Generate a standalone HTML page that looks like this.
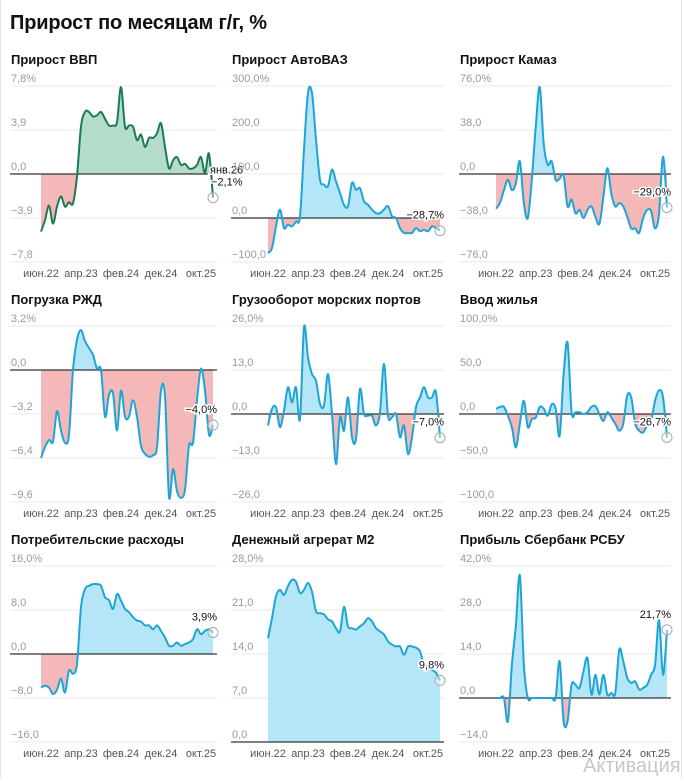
<!DOCTYPE html>
<html><head><meta charset="utf-8">
<style>
html,body{margin:0;padding:0;background:#fff;}
body{width:684px;height:778px;overflow:hidden;position:relative;font-family:"Liberation Sans","Noto Sans CJK SC",sans-serif;}
svg text{font-family:"Liberation Sans","Noto Sans CJK SC",sans-serif;}
</style></head>
<body>
<svg id="chart" width="684" height="778" viewBox="0 0 684 778" xmlns="http://www.w3.org/2000/svg">
<line x1="0.5" y1="0" x2="0.5" y2="778" stroke="#e6e6e6"/>
<line x1="681.5" y1="0" x2="681.5" y2="778" stroke="#e6e6e6"/>
<text x="10" y="29" font-size="20" font-weight="bold" fill="#111" textLength="257">Прирост по месяцам г/г, %</text>
<text x="583" y="772" font-size="20" fill="#c8c8c8">Активация Wi</text>
</svg>
<script>
const xTickLabels = ["июн.22","апр.23","фев.24","дек.24","окт.25"];
const xTickIndex = [0,10,20,30,40];
const gdp = [-5.1,-4.1,-2.8,-4.4,-2.9,-2.0,-2.9,-2.5,-2.6,-0.2,4.2,5.5,5.5,5.1,5.2,5.5,4.9,4.3,4.3,4.6,7.7,4.2,4.3,4.2,3.0,3.5,2.4,3.2,3.2,3.6,4.5,2.4,0.5,1.2,1.5,0.8,0.9,0.5,0.5,0.8,1.5,0.1,1.8,-2.1];
const avtovaz = [-80,-68,-19,19,-23,-15,-19,-8,4,155,284,284,178,87,76,72,110,83,57,30,27,80,64,68,38,30,19,11,11,19,27,4,0,-23,-34,-34,-34,-23,-30,-27,-30,-19,-23,-28.7];
const kamaz = [-30,-25,-14,-5,-14,-8,11,-25,-38,-5,41,75,26,8,11,-5,-4,-1,-28,-22,-34,-31,-38,-31,-28,-37,-43,-20,5,-17,-28,-25,-28,-37,-47,-47,-51,-38,-31,-32,-47,-34,15,-29];
const rzd = [-6.4,-5.6,-5.1,-5.2,-3.0,-4.4,-5.3,-4.7,0,2.2,2.9,2.1,1.6,1.1,0.1,0,-3.4,-1.8,-1.7,-4.4,-1.5,-3.4,-3.4,-2.2,-3.4,-5.5,-6.1,-6.3,-6.2,-5.6,-1.5,-1.9,-9.2,-7.2,-8.8,-9.3,-8.7,-5.5,-5.3,-2.2,0.1,-1.5,-4.7,-4.0];
const ports = [-3.4,1.5,2.0,-3.9,1.0,7.9,3.4,7.9,-1.5,25.6,16.7,11.8,9.8,3.0,2.5,11.8,0,-14.8,-1.0,-4.9,4.9,-6.9,-7.4,7.4,0,-0.5,-0.5,-3.4,0.5,14.8,-0.5,-1.0,0,-6.9,-3.4,-11.8,-6.9,2.0,4.9,7.9,4.9,4.9,6.4,-7.0];
const housing = [6,8,8,-2,-15,-38,-11,15,-15,-6,-4,8,6,-2,11,6,-25,45,81,2,2,2,0,2,8,9,0,-8,2,-4,-11,-19,-11,21,19,-11,-19,-21,-13,-8,15,27,19,-26.7];
const consumer = [-6.1,-5.8,-6.1,-7.3,-6.5,-4.5,-7.0,-3.0,-3.6,-1.8,8.5,11.8,12.4,12.7,12.7,12.4,10.3,9.8,8.2,10.9,9.7,8.2,7.6,6.7,6.1,5.9,5.2,5.2,4.5,5.2,4.2,3.0,1.5,1.5,2.1,1.5,1.8,2.1,2.7,4.5,3.6,4.2,4.5,3.9];
const m2 = [16.5,19.7,23.2,24.2,23.4,24.8,25.8,25.5,23.7,24.2,25.3,23.9,20.8,20.5,20.3,19.5,19.2,18.1,17.6,21.5,18.4,18.1,17.9,18.4,18.9,19.7,19.2,18.1,17.6,17.1,16.0,15.5,15.2,15.2,13.9,15.2,15.2,15.0,14.4,12.3,12.0,11.5,11.0,9.8];
const sber = [0,0,0,-7.4,10.6,23,39,10.6,0,0,0,0,0,0,0,0,11.7,-7.4,-7.4,4.2,4.2,3.2,8.5,12.7,1.1,7.4,1.1,7.4,1.1,1.6,1.6,15.4,11.7,6.4,4.8,5.3,2.7,3.2,4.2,7.4,10.6,24.9,7.4,21.7];

const gdpTicks=["7,8%","3,9","0,0","−3,9","−7,8"], gdpTickVals=[7.8,3.9,0,-3.9,-7.8];
const vazTicks=["300,0%","200,0","100,0","0,0","−100,0"], vazTickVals=[300,200,100,0,-100];
const kamTicks=["76,0%","38,0","0,0","−38,0","−76,0"], kamTickVals=[76,38,0,-38,-76];
const rzdTicks=["3,2%","0,0","−3,2","−6,4","−9,6"], rzdTickVals=[3.2,0,-3.2,-6.4,-9.6];
const portTicks=["26,0%","13,0","0,0","−13,0","−26,0"], portTickVals=[26,13,0,-13,-26];
const houseTicks=["100,0%","50,0","0,0","−50,0","−100,0"], houseTickVals=[100,50,0,-50,-100];
const consTicks=["16,0%","8,0","0,0","−8,0","−16,0"], consTickVals=[16,8,0,-8,-16];
const m2Ticks=["28,0%","21,0","14,0","7,0","0,0"], m2TickVals=[28,21,14,7,0];
const sberTicks=["42,0%","28,0","14,0","0,0","−14,0"], sberTickVals=[42,28,14,0,-14];

const titles=["Прирост ВВП","Прирост АвтоВАЗ","Прирост Камаз","Погрузка РЖД","Грузооборот морских портов","Ввод жилья","Потребительские расходы","Денежный агрерат М2","Прибыль Сбербанк РСБУ"];
const lastLabels=["−2,1%","−28,7%","−29,0%","−4,0%","−7,0%","−26,7%","3,9%","9,8%","21,7%"];
const series=[gdp,avtovaz,kamaz,rzd,ports,housing,consumer,m2,sber];
const ticks=[gdpTicks,vazTicks,kamTicks,rzdTicks,portTicks,houseTicks,consTicks,m2Ticks,sberTicks];
const tickVals=[gdpTickVals,vazTickVals,kamTickVals,rzdTickVals,portTickVals,houseTickVals,consTickVals,m2TickVals,sberTickVals];
const names=["gdp","avtovaz","kamaz","rzd","ports","housing","consumer","m2","sber"];

const NS="http://www.w3.org/2000/svg";
const svg=document.getElementById("chart");
const cols=[{g0:10,g1:217,d0:41,d1:213},{g0:231,g1:444,d0:268,d1:440},{g0:459,g1:671,d0:496,d1:667}];
const rowTop=[86,326,566];
function el(tag,attrs,parent){const e=document.createElementNS(NS,tag);for(const k in attrs)e.setAttribute(k,attrs[k]);(parent||svg).appendChild(e);return e;}
function smooth(pts){
  let d="M"+pts[0][0]+","+pts[0][1];
  for(let i=0;i<pts.length-1;i++){
    const p0=pts[Math.max(0,i-1)],p1=pts[i],p2=pts[i+1],p3=pts[Math.min(pts.length-1,i+2)];
    const c1x=p1[0]+(p2[0]-p0[0])/6,c1y=p1[1]+(p2[1]-p0[1])/6;
    const c2x=p2[0]-(p3[0]-p1[0])/6,c2y=p2[1]-(p3[1]-p1[1])/6;
    d+=" C"+c1x.toFixed(2)+","+c1y.toFixed(2)+" "+c2x.toFixed(2)+","+c2y.toFixed(2)+" "+p2[0].toFixed(2)+","+p2[1].toFixed(2);
  }
  return d;
}
for(let p=0;p<9;p++){
  const c=cols[p%3], top=rowTop[Math.floor(p/3)];
  const vals=series[p], tv=tickVals[p], tl=ticks[p];
  const vmax=tv[0], vmin=tv[4], bottom=top+176;
  const y=v=>top+(vmax-v)/(vmax-vmin)*176;
  const x=i=>c.d0+i*(c.d1-c.d0)/(vals.length-1);
  const g=el("g",{});
  
  
  const t=el("text",{x:c.g0+1,y:top-22,"font-size":13,"font-weight":"bold",fill:"#111"},g);
  t.textContent=titles[p];
  
  
  for(let k=0;k<5;k++){
    const yy=y(tv[k]);
    const gl=el("line",{x1:c.g0,x2:c.g1,y1:yy,y2:yy,stroke:"#e8e8e8","stroke-width":1},g);
    
    
    const lt=el("text",{x:c.g0+1,y:yy-4,"font-size":11,fill:"#9a9a9a"},g);
    lt.textContent=tl[k];
    
    
  }
  const pts=vals.map((v,i)=>[x(i),y(v)]);
  const line=smooth(pts);
  const zy=y(0);
  const area=line+" L"+x(vals.length-1)+","+zy+" L"+x(0)+","+zy+" Z";
  const posCol=p===0?"#b3dcc9":"#b5e6f8", negCol="#f4b8b8";
  const cpA=el("clipPath",{id:"cpa"+p},g); el("rect",{x:0,y:top-20,width:684,height:zy-top+20},cpA);
  const cpB=el("clipPath",{id:"cpb"+p},g); el("rect",{x:0,y:zy,width:684,height:bottom-zy+20},cpB);
  const fa=el("path",{d:area,fill:posCol,"clip-path":"url(#cpa"+p+")"},g);
  
  
  const fb=el("path",{d:area,fill:negCol,"clip-path":"url(#cpb"+p+")"},g);
  
  
  const zl=el("line",{x1:c.g0,x2:c.g1,y1:zy,y2:zy,stroke:"#333","stroke-width":1.2},g);
  
  
  const ln=el("path",{d:line,fill:"none",stroke:p===0?"#1d7a58":"#1ea5d6","stroke-width":2,"stroke-linejoin":"round"},g);
  
  
  const ex=x(vals.length-1), ey=y(vals[vals.length-1]);
  const mk=el("circle",{cx:ex,cy:ey,r:5,fill:"#fff","fill-opacity":0.4,stroke:"#aaa","stroke-width":1},g);
  
  
  if(p===0){
    const d1=el("text",{x:ex-3,y:ey-24,"font-size":11,fill:"#111",stroke:"#fff","stroke-width":3,"paint-order":"stroke"},g);
    d1.textContent="янв.26";
    
    
    const v1=el("text",{x:ex-2,y:ey-12,"font-size":11,fill:"#111",stroke:"#fff","stroke-width":3,"paint-order":"stroke"},g);
    v1.textContent=lastLabels[p];
    
    
  } else {
    const v1=el("text",{x:ex+4,y:ey-12,"font-size":11,fill:"#111","text-anchor":"end",stroke:"#fff","stroke-width":3,"paint-order":"stroke"},g);
    v1.textContent=lastLabels[p];
    
    
  }
  for(let k=0;k<xTickLabels.length;k++){
    const xt=el("text",{x:x(xTickIndex[k]),y:bottom+15,"font-size":11,fill:"#555","text-anchor":"middle"},g);
    xt.textContent=xTickLabels[k];
    
    
  }
}
</script>
</body></html>
